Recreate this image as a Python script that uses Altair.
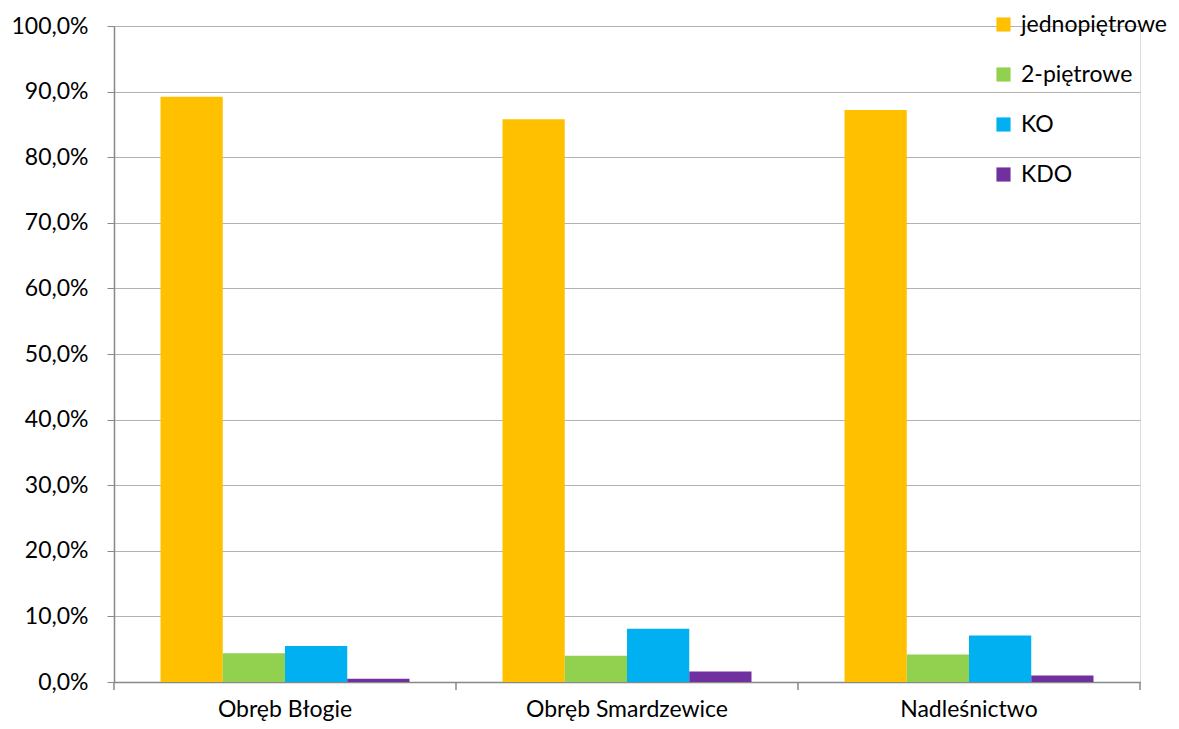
import altair as alt
import pandas as pd

categories = ["Obręb Błogie", "Obręb Smardzewice", "Nadleśnictwo"]
series = ["jednopiętrowe", "2-piętrowe", "KO", "KDO"]
colors = ["#FFC000", "#92D050", "#00B0F0", "#7030A0"]
values = {
    "jednopiętrowe": [0.892, 0.858, 0.872],
    "2-piętrowe": [0.044, 0.040, 0.042],
    "KO": [0.055, 0.081, 0.071],
    "KDO": [0.005, 0.016, 0.010],
}
y_ticks = [i / 10 for i in range(11)]

rows = []
for s in series:
    for c, v in zip(categories, values[s]):
        rows.append({"cat": c, "series": s, "value": v})
df = pd.DataFrame(rows)
cat_df = pd.DataFrame({"cat": categories})

W, H = 1026, 656
FONT = "Lato"

x_scale = alt.Scale(domain=categories, paddingInner=0, paddingOuter=0)

bars = alt.Chart(df).mark_bar().encode(
    x=alt.X("cat:N", scale=x_scale, sort=categories,
            axis=alt.Axis(title=None, labelAngle=0, ticks=False, labelPadding=16,
                          labelFontSize=23, labelFont=FONT, labelColor="#000000",
                          labelLimit=0,
                          domainColor="#888888", domainWidth=1.5)),
    xOffset=alt.XOffset("series:N", sort=series,
                        scale=alt.Scale(domain=series, paddingInner=0, paddingOuter=0.747)),
    y=alt.Y("value:Q", scale=alt.Scale(domain=[0, 1], nice=False),
            axis=alt.Axis(title=None, values=y_ticks,
                          labelExpr="replace(format(datum.value, '.1%'), '.', ',')",
                          labelFontSize=23, labelFont=FONT, labelColor="#000000",
                          labelPadding=19, tickSize=7, tickColor="#888888",
                          domainColor="#888888", domainWidth=1.5,
                          grid=True, gridColor="#b3b3b3", gridWidth=1)),
    color=alt.Color("series:N", sort=series,
                    scale=alt.Scale(domain=series, range=colors),
                    legend=alt.Legend(title=None, orient="none", legendX=878, legendY=-13,
                                      symbolType="square", symbolSize=200,
                                      symbolStrokeWidth=0, labelFont=FONT,
                                      labelFontSize=23, labelColor="#000000",
                                      labelLimit=0,
                                      rowPadding=26, labelOffset=6)),
)

ticks = alt.Chart(cat_df).mark_rule(color="#888888", strokeWidth=1.5).encode(
    x=alt.X("cat:N", bandPosition=0, scale=x_scale, sort=categories),
    y=alt.value(H),
    y2=alt.value(H + 8),
)

last_tick = alt.Chart(cat_df.head(1)).mark_rule(color="#888888", strokeWidth=1.5).encode(
    x=alt.value(W),
    y=alt.value(H),
    y2=alt.value(H + 8),
)

chart = alt.layer(bars, ticks, last_tick).properties(
    width=W, height=H,
    autosize=alt.AutoSizeParams(type="none"),
    padding={"left": 106, "top": 18, "right": 31, "bottom": 39},
).configure_view(stroke=None).configure(background="white")

chart.save("out.html", embed_options={"renderer": "svg", "actions": False})
